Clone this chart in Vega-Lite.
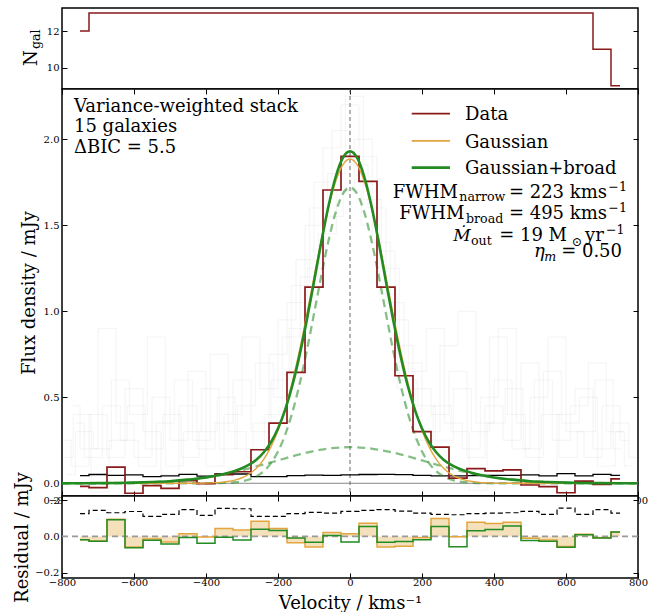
{
"$schema": "https://vega.github.io/schema/vega-lite/v6.json",
"background": "white",
"padding": {"left": 12, "top": 7, "right": 5, "bottom": 2},
"spacing": 0,
"bounds": "flush",
"config": {
  "font": "DejaVu Serif",
  "view": {"stroke": "black", "strokeWidth": 1.5, "fill": "white"},
  "axis": {"domain": false, "grid": false, "tickColor": "black", "tickSize": -5, "tickWidth": 1,
    "labelFont": "DejaVu Serif", "labelFontSize": 10, "labelColor": "black", "labelPadding": 8,
    "labelFlush": false, "labelOverlap": false, "labelBound": false,
    "titleFont": "DejaVu Serif", "titleFontSize": 18, "titleFontWeight": "normal", "titleColor": "black"}
},
"datasets": {
  "bins": [
    {"v":-750,"d":-0.018,"e":0.045,"e3":0.125,"rg":-0.018,"rt":-0.018,"n":12},
    {"v":-700,"d":-0.025,"e":0.051,"e3":0.143,"rg":-0.025,"rt":-0.026,"n":13},
    {"v":-650,"d":0.094,"e":0.046,"e3":0.130,"rg":0.094,"rt":0.092,"n":13},
    {"v":-600,"d":-0.058,"e":0.049,"e3":0.137,"rg":-0.058,"rt":-0.062,"n":13},
    {"v":-550,"d":-0.014,"e":0.039,"e3":0.110,"rg":-0.014,"rt":-0.021,"n":13},
    {"v":-500,"d":-0.030,"e":0.043,"e3":0.121,"rg":-0.030,"rt":-0.042,"n":13},
    {"v":-450,"d":0.015,"e":0.052,"e3":0.147,"rg":0.015,"rt":-0.006,"n":13},
    {"v":-400,"d":-0.002,"e":0.041,"e3":0.116,"rg":-0.003,"rt":-0.037,"n":13},
    {"v":-350,"d":0.050,"e":0.055,"e3":0.154,"rg":0.043,"rt":-0.004,"n":13},
    {"v":-300,"d":0.067,"e":0.054,"e3":0.152,"rg":0.035,"rt":-0.020,"n":13},
    {"v":-250,"d":0.195,"e":0.039,"e3":0.110,"rg":0.084,"rt":0.039,"n":13},
    {"v":-200,"d":0.350,"e":0.039,"e3":0.110,"rg":0.043,"rt":0.032,"n":13},
    {"v":-150,"d":0.645,"e":0.045,"e3":0.125,"rg":-0.034,"rt":-0.008,"n":13},
    {"v":-100,"d":1.140,"e":0.047,"e3":0.132,"rg":-0.058,"rt":-0.032,"n":13},
    {"v":-50,"d":1.705,"e":0.046,"e3":0.128,"rg":0.022,"rt":0.005,"n":13},
    {"v":0,"d":1.900,"e":0.049,"e3":0.138,"rg":0.015,"rt":-0.030,"n":13},
    {"v":50,"d":1.755,"e":0.051,"e3":0.143,"rg":0.072,"rt":0.055,"n":13},
    {"v":100,"d":1.140,"e":0.052,"e3":0.147,"rg":-0.058,"rt":-0.032,"n":13},
    {"v":150,"d":0.625,"e":0.050,"e3":0.139,"rg":-0.054,"rt":-0.028,"n":13},
    {"v":200,"d":0.300,"e":0.046,"e3":0.128,"rg":-0.007,"rt":-0.018,"n":13},
    {"v":250,"d":0.210,"e":0.043,"e3":0.121,"rg":0.099,"rt":0.054,"n":13},
    {"v":300,"d":0.030,"e":0.043,"e3":0.119,"rg":-0.002,"rt":-0.057,"n":13},
    {"v":350,"d":0.085,"e":0.045,"e3":0.125,"rg":0.078,"rt":0.031,"n":13},
    {"v":400,"d":0.072,"e":0.046,"e3":0.128,"rg":0.071,"rt":0.038,"n":13},
    {"v":450,"d":0.078,"e":0.046,"e3":0.130,"rg":0.078,"rt":0.057,"n":13},
    {"v":500,"d":-0.010,"e":0.049,"e3":0.138,"rg":-0.010,"rt":-0.022,"n":13},
    {"v":550,"d":-0.020,"e":0.043,"e3":0.121,"rg":-0.020,"rt":-0.027,"n":13},
    {"v":600,"d":-0.055,"e":0.056,"e3":0.156,"rg":-0.055,"rt":-0.059,"n":13},
    {"v":650,"d":0.012,"e":0.043,"e3":0.121,"rg":0.012,"rt":0.010,"n":13},
    {"v":700,"d":-0.007,"e":0.052,"e3":0.147,"rg":-0.007,"rt":-0.008,"n":11},
    {"v":750,"d":0.025,"e":0.046,"e3":0.128,"rg":0.025,"rt":0.025,"n":9}
  ],
  "model": [
    {"v":-800,"g":0,"n":0,"b":0.0002,"t":0.0002},
    {"v":-750,"g":0,"n":0,"b":0.0004,"t":0.0004},
    {"v":-700,"g":0,"n":0,"b":0.0008,"t":0.0008},
    {"v":-650,"g":0,"n":0,"b":0.0018,"t":0.0018},
    {"v":-600,"g":0,"n":0,"b":0.0035,"t":0.0035},
    {"v":-550,"g":0,"n":0,"b":0.007,"t":0.007},
    {"v":-500,"g":0,"n":0,"b":0.012,"t":0.012},
    {"v":-450,"g":0.0002,"n":0,"b":0.021,"t":0.021},
    {"v":-400,"g":0.001,"n":0.0002,"b":0.034,"t":0.034},
    {"v":-380,"g":0.003,"n":0.0005,"b":0.041,"t":0.041},
    {"v":-360,"g":0.005,"n":0.0013,"b":0.048,"t":0.050},
    {"v":-340,"g":0.010,"n":0.003,"b":0.057,"t":0.059},
    {"v":-320,"g":0.018,"n":0.006,"b":0.066,"t":0.072},
    {"v":-300,"g":0.032,"n":0.011,"b":0.076,"t":0.087},
    {"v":-280,"g":0.054,"n":0.022,"b":0.086,"t":0.108},
    {"v":-260,"g":0.088,"n":0.040,"b":0.098,"t":0.137},
    {"v":-240,"g":0.138,"n":0.069,"b":0.109,"t":0.179},
    {"v":-220,"g":0.210,"n":0.116,"b":0.121,"t":0.237},
    {"v":-200,"g":0.307,"n":0.185,"b":0.133,"t":0.318},
    {"v":-180,"g":0.434,"n":0.283,"b":0.145,"t":0.428},
    {"v":-160,"g":0.590,"n":0.413,"b":0.157,"t":0.570},
    {"v":-140,"g":0.775,"n":0.577,"b":0.168,"t":0.745},
    {"v":-120,"g":0.981,"n":0.771,"b":0.178,"t":0.949},
    {"v":-100,"g":1.198,"n":0.985,"b":0.187,"t":1.172},
    {"v":-80,"g":1.410,"n":1.204,"b":0.195,"t":1.399},
    {"v":-60,"g":1.601,"n":1.407,"b":0.202,"t":1.609},
    {"v":-40,"g":1.753,"n":1.573,"b":0.206,"t":1.779},
    {"v":-20,"g":1.851,"n":1.682,"b":0.209,"t":1.891},
    {"v":0,"g":1.885,"n":1.720,"b":0.210,"t":1.930},
    {"v":20,"g":1.851,"n":1.682,"b":0.209,"t":1.891},
    {"v":40,"g":1.753,"n":1.573,"b":0.206,"t":1.779},
    {"v":60,"g":1.601,"n":1.407,"b":0.202,"t":1.609},
    {"v":80,"g":1.410,"n":1.204,"b":0.195,"t":1.399},
    {"v":100,"g":1.198,"n":0.985,"b":0.187,"t":1.172},
    {"v":120,"g":0.981,"n":0.771,"b":0.178,"t":0.949},
    {"v":140,"g":0.775,"n":0.577,"b":0.168,"t":0.745},
    {"v":160,"g":0.590,"n":0.413,"b":0.157,"t":0.570},
    {"v":180,"g":0.434,"n":0.283,"b":0.145,"t":0.428},
    {"v":200,"g":0.307,"n":0.185,"b":0.133,"t":0.318},
    {"v":220,"g":0.210,"n":0.116,"b":0.121,"t":0.237},
    {"v":240,"g":0.138,"n":0.069,"b":0.109,"t":0.179},
    {"v":260,"g":0.088,"n":0.040,"b":0.098,"t":0.137},
    {"v":280,"g":0.054,"n":0.022,"b":0.086,"t":0.108},
    {"v":300,"g":0.032,"n":0.011,"b":0.076,"t":0.087},
    {"v":320,"g":0.018,"n":0.006,"b":0.066,"t":0.072},
    {"v":340,"g":0.010,"n":0.003,"b":0.057,"t":0.059},
    {"v":360,"g":0.005,"n":0.0013,"b":0.048,"t":0.050},
    {"v":380,"g":0.003,"n":0.0005,"b":0.041,"t":0.041},
    {"v":400,"g":0.001,"n":0.0002,"b":0.034,"t":0.034},
    {"v":450,"g":0.0002,"n":0,"b":0.021,"t":0.021},
    {"v":500,"g":0,"n":0,"b":0.012,"t":0.012},
    {"v":550,"g":0,"n":0,"b":0.007,"t":0.007},
    {"v":600,"g":0,"n":0,"b":0.0035,"t":0.0035},
    {"v":650,"g":0,"n":0,"b":0.0018,"t":0.0018},
    {"v":700,"g":0,"n":0,"b":0.0008,"t":0.0008},
    {"v":750,"g":0,"n":0,"b":0.0004,"t":0.0004},
    {"v":800,"g":0,"n":0,"b":0.0002,"t":0.0002}
  ],
  "bg": [
    {"s":"A","v":-800,"f":0.25},{"s":"A","v":-750,"f":0.10},{"s":"A","v":-700,"f":0.40},{"s":"A","v":-650,"f":0.15},{"s":"A","v":-600,"f":0.55},{"s":"A","v":-550,"f":0.30},{"s":"A","v":-500,"f":0.05},{"s":"A","v":-450,"f":0.45},{"s":"A","v":-400,"f":0.20},{"s":"A","v":-350,"f":0.35},{"s":"A","v":-300,"f":0.60},{"s":"A","v":-250,"f":0.30},{"s":"A","v":-200,"f":0.75},{"s":"A","v":-150,"f":1.05},{"s":"A","v":-100,"f":1.50},{"s":"A","v":-50,"f":1.95},{"s":"A","v":0,"f":2.20},{"s":"A","v":50,"f":1.90},{"s":"A","v":100,"f":1.35},{"s":"A","v":150,"f":0.80},{"s":"A","v":200,"f":0.55},{"s":"A","v":250,"f":0.40},{"s":"A","v":300,"f":0.65},{"s":"A","v":350,"f":0.15},{"s":"A","v":400,"f":0.45},{"s":"A","v":450,"f":0.25},{"s":"A","v":500,"f":0.70},{"s":"A","v":550,"f":-0.02},{"s":"A","v":600,"f":0.40},{"s":"A","v":650,"f":0.55},{"s":"A","v":700,"f":0.20},{"s":"A","v":750,"f":0.35},{"s":"A","v":800,"f":0.15},
    {"s":"B","v":-775,"f":0.45},{"s":"B","v":-725,"f":0.20},{"s":"B","v":-675,"f":0.90},{"s":"B","v":-625,"f":0.35},{"s":"B","v":-575,"f":0.15},{"s":"B","v":-525,"f":0.50},{"s":"B","v":-475,"f":0.25},{"s":"B","v":-425,"f":0.65},{"s":"B","v":-375,"f":0.10},{"s":"B","v":-325,"f":0.40},{"s":"B","v":-275,"f":0.85},{"s":"B","v":-225,"f":0.55},{"s":"B","v":-175,"f":0.95},{"s":"B","v":-125,"f":1.30},{"s":"B","v":-75,"f":1.75},{"s":"B","v":-25,"f":2.05},{"s":"B","v":25,"f":1.85},{"s":"B","v":75,"f":1.60},{"s":"B","v":125,"f":1.05},{"s":"B","v":175,"f":0.70},{"s":"B","v":225,"f":0.30},{"s":"B","v":275,"f":0.80},{"s":"B","v":325,"f":1.00},{"s":"B","v":375,"f":0.35},{"s":"B","v":425,"f":0.60},{"s":"B","v":475,"f":0.20},{"s":"B","v":525,"f":0.50},{"s":"B","v":575,"f":0.85},{"s":"B","v":625,"f":0.30},{"s":"B","v":675,"f":0.15},{"s":"B","v":725,"f":0.45},{"s":"B","v":775,"f":0.25},
    {"s":"C","v":-788,"f":0.05},{"s":"C","v":-738,"f":0.30},{"s":"C","v":-688,"f":0.20},{"s":"C","v":-638,"f":0.60},{"s":"C","v":-588,"f":0.40},{"s":"C","v":-538,"f":0.85},{"s":"C","v":-488,"f":0.10},{"s":"C","v":-438,"f":0.30},{"s":"C","v":-388,"f":0.55},{"s":"C","v":-338,"f":0.20},{"s":"C","v":-288,"f":0.45},{"s":"C","v":-238,"f":0.70},{"s":"C","v":-188,"f":0.50},{"s":"C","v":-138,"f":1.15},{"s":"C","v":-88,"f":1.60},{"s":"C","v":-38,"f":1.80},{"s":"C","v":12,"f":2.25},{"s":"C","v":62,"f":1.65},{"s":"C","v":112,"f":1.25},{"s":"C","v":162,"f":0.60},{"s":"C","v":212,"f":0.45},{"s":"C","v":262,"f":0.25},{"s":"C","v":312,"f":0.55},{"s":"C","v":362,"f":0.30},{"s":"C","v":412,"f":0.85},{"s":"C","v":462,"f":0.40},{"s":"C","v":512,"f":0.15},{"s":"C","v":562,"f":0.65},{"s":"C","v":612,"f":0.35},{"s":"C","v":662,"f":0.50},{"s":"C","v":712,"f":0.10},{"s":"C","v":762,"f":0.30},
    {"s":"D","v":-763,"f":0.35},{"s":"D","v":-713,"f":0.15},{"s":"D","v":-663,"f":0.45},{"s":"D","v":-613,"f":0.25},{"s":"D","v":-563,"f":0.10},{"s":"D","v":-513,"f":0.35},{"s":"D","v":-463,"f":0.60},{"s":"D","v":-413,"f":0.25},{"s":"D","v":-363,"f":0.75},{"s":"D","v":-313,"f":0.30},{"s":"D","v":-263,"f":0.15},{"s":"D","v":-213,"f":0.40},{"s":"D","v":-163,"f":0.85},{"s":"D","v":-113,"f":1.20},{"s":"D","v":-63,"f":1.45},{"s":"D","v":-13,"f":1.70},{"s":"D","v":37,"f":2.00},{"s":"D","v":87,"f":1.40},{"s":"D","v":137,"f":0.95},{"s":"D","v":187,"f":0.65},{"s":"D","v":237,"f":0.90},{"s":"D","v":287,"f":0.35},{"s":"D","v":337,"f":0.20},{"s":"D","v":387,"f":0.50},{"s":"D","v":437,"f":0.90},{"s":"D","v":487,"f":0.35},{"s":"D","v":537,"f":0.60},{"s":"D","v":587,"f":0.25},{"s":"D","v":637,"f":0.45},{"s":"D","v":687,"f":0.70},{"s":"D","v":737,"f":0.30},{"s":"D","v":787,"f":0.10},
    {"s":"E","v":-794,"f":0.15},{"s":"E","v":-744,"f":0.40},{"s":"E","v":-694,"f":-0.05},{"s":"E","v":-644,"f":0.25},{"s":"E","v":-594,"f":0.45},{"s":"E","v":-544,"f":0.20},{"s":"E","v":-494,"f":0.40},{"s":"E","v":-444,"f":0.15},{"s":"E","v":-394,"f":0.30},{"s":"E","v":-344,"f":0.50},{"s":"E","v":-294,"f":0.20},{"s":"E","v":-244,"f":0.35},{"s":"E","v":-194,"f":0.60},{"s":"E","v":-144,"f":0.90},{"s":"E","v":-94,"f":1.25},{"s":"E","v":-44,"f":1.55},{"s":"E","v":6,"f":1.70},{"s":"E","v":56,"f":1.50},{"s":"E","v":106,"f":1.10},{"s":"E","v":156,"f":0.55},{"s":"E","v":206,"f":0.25},{"s":"E","v":256,"f":0.45},{"s":"E","v":306,"f":0.30},{"s":"E","v":356,"f":-0.04},{"s":"E","v":406,"f":0.35},{"s":"E","v":456,"f":0.55},{"s":"E","v":506,"f":0.20},{"s":"E","v":556,"f":0.40},{"s":"E","v":606,"f":0.15},{"s":"E","v":656,"f":0.30},{"s":"E","v":706,"f":0.60},{"s":"E","v":756,"f":0.20}
  ]
},
"vconcat": [
  {
    "width": 576, "height": 81,
    "resolve": {"axis": {"x": "independent", "y": "independent"}},
    "layer": [
      {"data": {"name": "bins"}, "mark": {"type": "line", "interpolate": "step", "color": "#8b1a1a", "strokeWidth": 1.5},
       "encoding": {
         "x": {"field": "v", "type": "quantitative", "scale": {"domain": [-800, 800], "nice": false, "zero": false}, "axis": null},
         "y": {"field": "n", "type": "quantitative", "scale": {"domain": [8.82, 13.27], "nice": false, "zero": false}, "axis": {"orient": "left", "values": [10, 12], "format": "d", "title": null}}}},
      {"data": {"name": "bins"}, "mark": {"type": "line", "opacity": 0},
       "encoding": {
         "x": {"field": "v", "type": "quantitative", "scale": {"domain": [-800, 800], "nice": false, "zero": false}, "axis": null},
         "y": {"field": "n", "type": "quantitative", "scale": {"domain": [8.82, 13.27], "nice": false, "zero": false}, "axis": {"orient": "right", "values": [10, 12], "labels": false, "title": null}}}},
      {"data": {"values": [{}]}, "mark": {"type": "text", "text": "N", "font": "DejaVu Serif", "fontSize": 18, "angle": 270, "align": "left", "baseline": "alphabetic", "color": "black"},
       "encoding": {"x": {"datum": -869, "type": "quantitative", "scale": {"domain": [-800, 800], "nice": false, "zero": false}, "axis": null}, "y": {"datum": 10.08, "type": "quantitative", "scale": {"domain": [8.82, 13.27], "nice": false, "zero": false}, "axis": null}}},
      {"data": {"values": [{}]}, "mark": {"type": "text", "text": "gal", "font": "DejaVu Serif", "fontSize": 12.6, "angle": 270, "align": "left", "baseline": "alphabetic", "color": "black"},
       "encoding": {"x": {"datum": -862.5, "type": "quantitative", "scale": {"domain": [-800, 800], "nice": false, "zero": false}, "axis": null}, "y": {"datum": 11.02, "type": "quantitative", "scale": {"domain": [8.82, 13.27], "nice": false, "zero": false}, "axis": null}}}
    ]
  },
  {
    "width": 576, "height": 407,
    "resolve": {"axis": {"x": "independent", "y": "independent"}},
    "layer": [
      {"data": {"name": "bg"}, "mark": {"type": "line", "interpolate": "step", "color": "#999999", "opacity": 0.14, "strokeWidth": 0.8},
       "encoding": {
         "x": {"field": "v", "type": "quantitative", "scale": {"domain": [-800, 800], "nice": false, "zero": false}, "axis": {"orient": "bottom", "values": [-800, -600, -400, -200, 0, 200, 400, 600, 800], "format": "d", "title": null, "labelPadding": 4}},
         "y": {"field": "f", "type": "quantitative", "scale": {"domain": [-0.074, 2.292], "nice": false, "zero": false}, "axis": {"orient": "left", "values": [0, 0.5, 1, 1.5, 2], "format": ".1f", "title": "Flux density / mJy", "titleX": -28, "titleY": 203.5, "titleAngle": 270, "titleAlign": "center", "titleBaseline": "alphabetic"}},
         "detail": {"field": "s"}}},
      {"data": {"name": "bins"}, "mark": {"type": "line", "opacity": 0},
       "encoding": {
         "x": {"field": "v", "type": "quantitative", "scale": {"domain": [-800, 800], "nice": false, "zero": false}, "axis": {"orient": "top", "values": [-800, -600, -400, -200, 0, 200, 400, 600, 800], "labels": false, "title": null}},
         "y": {"field": "d", "type": "quantitative", "scale": {"domain": [-0.074, 2.292], "nice": false, "zero": false}, "axis": {"orient": "right", "values": [0, 0.5, 1, 1.5, 2], "labels": false, "title": null}}}},
      {"data": {"values": [{}]}, "mark": {"type": "rule", "color": "#888888", "strokeWidth": 1},
       "encoding": {"y": {"datum": 0, "type": "quantitative", "scale": {"domain": [-0.074, 2.292], "nice": false, "zero": false}, "axis": null}}},
      {"data": {"values": [{}]}, "mark": {"type": "rule", "color": "#666666", "strokeWidth": 1, "strokeDash": [4, 3]},
       "encoding": {"x": {"datum": 0, "type": "quantitative", "scale": {"domain": [-800, 800], "nice": false, "zero": false}, "axis": null}}},
      {"data": {"name": "bins"}, "mark": {"type": "line", "interpolate": "step", "color": "black", "strokeWidth": 1.3},
       "encoding": {
         "x": {"field": "v", "type": "quantitative", "scale": {"domain": [-800, 800], "nice": false, "zero": false}, "axis": null},
         "y": {"field": "e", "type": "quantitative", "scale": {"domain": [-0.074, 2.292], "nice": false, "zero": false}, "axis": null}}},
      {"data": {"name": "model"}, "mark": {"type": "line", "interpolate": "monotone", "color": "#228b22", "opacity": 0.55, "strokeWidth": 2.3, "strokeDash": [8, 5]},
       "encoding": {
         "x": {"field": "v", "type": "quantitative", "scale": {"domain": [-800, 800], "nice": false, "zero": false}, "axis": null},
         "y": {"field": "b", "type": "quantitative", "scale": {"domain": [-0.074, 2.292], "nice": false, "zero": false}, "axis": null}}},
      {"data": {"name": "model"}, "mark": {"type": "line", "interpolate": "monotone", "color": "#228b22", "opacity": 0.55, "strokeWidth": 2.3, "strokeDash": [8, 5]},
       "encoding": {
         "x": {"field": "v", "type": "quantitative", "scale": {"domain": [-800, 800], "nice": false, "zero": false}, "axis": null},
         "y": {"field": "n", "type": "quantitative", "scale": {"domain": [-0.074, 2.292], "nice": false, "zero": false}, "axis": null}}},
      {"data": {"name": "bins"}, "mark": {"type": "line", "interpolate": "step", "color": "#8b1a1a", "strokeWidth": 1.7},
       "encoding": {
         "x": {"field": "v", "type": "quantitative", "scale": {"domain": [-800, 800], "nice": false, "zero": false}, "axis": null},
         "y": {"field": "d", "type": "quantitative", "scale": {"domain": [-0.074, 2.292], "nice": false, "zero": false}, "axis": null}}},
      {"data": {"name": "model"}, "mark": {"type": "line", "interpolate": "monotone", "color": "#e3a53f", "strokeWidth": 1.4},
       "encoding": {
         "x": {"field": "v", "type": "quantitative", "scale": {"domain": [-800, 800], "nice": false, "zero": false}, "axis": null},
         "y": {"field": "g", "type": "quantitative", "scale": {"domain": [-0.074, 2.292], "nice": false, "zero": false}, "axis": null}}},
      {"data": {"name": "model"}, "mark": {"type": "line", "interpolate": "monotone", "color": "#228b22", "strokeWidth": 2.6},
       "encoding": {
         "x": {"field": "v", "type": "quantitative", "scale": {"domain": [-800, 800], "nice": false, "zero": false}, "axis": null},
         "y": {"field": "t", "type": "quantitative", "scale": {"domain": [-0.074, 2.292], "nice": false, "zero": false}, "axis": null}}},
      {"data": {"values": [{}]}, "mark": {"type": "rule", "color": "#8b1a1a", "strokeWidth": 1.7},
       "encoding": {"x": {"datum": 171.4, "type": "quantitative", "scale": {"domain": [-800, 800], "nice": false, "zero": false}, "axis": null}, "x2": {"datum": 277.8}, "y": {"datum": 2.149, "type": "quantitative", "scale": {"domain": [-0.074, 2.292], "nice": false, "zero": false}, "axis": null}}},
      {"data": {"values": [{}]}, "mark": {"type": "rule", "color": "#e3a53f", "strokeWidth": 1.7},
       "encoding": {"x": {"datum": 171.4, "type": "quantitative", "scale": {"domain": [-800, 800], "nice": false, "zero": false}, "axis": null}, "x2": {"datum": 277.8}, "y": {"datum": 1.990, "type": "quantitative", "scale": {"domain": [-0.074, 2.292], "nice": false, "zero": false}, "axis": null}}},
      {"data": {"values": [{}]}, "mark": {"type": "rule", "color": "#228b22", "strokeWidth": 2.7},
       "encoding": {"x": {"datum": 171.4, "type": "quantitative", "scale": {"domain": [-800, 800], "nice": false, "zero": false}, "axis": null}, "x2": {"datum": 277.8}, "y": {"datum": 1.835, "type": "quantitative", "scale": {"domain": [-0.074, 2.292], "nice": false, "zero": false}, "axis": null}}},
      {"data": {"values": [{}]}, "mark": {"type": "text", "text": "Data", "fontSize": 18, "align": "left", "baseline": "alphabetic", "color": "black"},
       "encoding": {"x": {"datum": 319.4, "type": "quantitative", "scale": {"domain": [-800, 800], "nice": false, "zero": false}, "axis": null}, "y": {"datum": 2.109, "type": "quantitative", "scale": {"domain": [-0.074, 2.292], "nice": false, "zero": false}, "axis": null}}},
      {"data": {"values": [{}]}, "mark": {"type": "text", "text": "Gaussian", "fontSize": 18, "align": "left", "baseline": "alphabetic", "color": "black"},
       "encoding": {"x": {"datum": 319.4, "type": "quantitative", "scale": {"domain": [-800, 800], "nice": false, "zero": false}, "axis": null}, "y": {"datum": 1.951, "type": "quantitative", "scale": {"domain": [-0.074, 2.292], "nice": false, "zero": false}, "axis": null}}},
      {"data": {"values": [{}]}, "mark": {"type": "text", "text": "Gaussian+broad", "fontSize": 18, "align": "left", "baseline": "alphabetic", "color": "black"},
       "encoding": {"x": {"datum": 319.4, "type": "quantitative", "scale": {"domain": [-800, 800], "nice": false, "zero": false}, "axis": null}, "y": {"datum": 1.796, "type": "quantitative", "scale": {"domain": [-0.074, 2.292], "nice": false, "zero": false}, "axis": null}}},
      {"data": {"values": [{}]}, "mark": {"type": "text", "text": ["Variance-weighted stack", "15 galaxies", "ΔBIC = 5.5"], "lineHeight": 20.4, "fontSize": 18, "align": "left", "baseline": "alphabetic", "color": "black"},
       "encoding": {"x": {"datum": -766.7, "type": "quantitative", "scale": {"domain": [-800, 800], "nice": false, "zero": false}, "axis": null}, "y": {"datum": 2.159, "type": "quantitative", "scale": {"domain": [-0.074, 2.292], "nice": false, "zero": false}, "axis": null}}},
      {"data": {"values": [{}]}, "mark": {"type": "text", "text": "FWHM", "fontSize": 18, "align": "left", "baseline": "alphabetic", "color": "black"},
       "encoding": {"x": {"datum": 118.6, "type": "quantitative", "scale": {"domain": [-800, 800], "nice": false, "zero": false}, "axis": null}, "y": {"datum": 1.660, "type": "quantitative", "scale": {"domain": [-0.074, 2.292], "nice": false, "zero": false}, "axis": null}}},
      {"data": {"values": [{}]}, "mark": {"type": "text", "text": "narrow", "fontSize": 12.6, "align": "left", "baseline": "alphabetic", "color": "black"},
       "encoding": {"x": {"datum": 303.7, "type": "quantitative", "scale": {"domain": [-800, 800], "nice": false, "zero": false}, "axis": null}, "y": {"datum": 1.640, "type": "quantitative", "scale": {"domain": [-0.074, 2.292], "nice": false, "zero": false}, "axis": null}}},
      {"data": {"values": [{}]}, "mark": {"type": "text", "text": "= 223 kms", "fontSize": 18, "align": "right", "baseline": "alphabetic", "color": "black"},
       "encoding": {"x": {"datum": 713.9, "type": "quantitative", "scale": {"domain": [-800, 800], "nice": false, "zero": false}, "axis": null}, "y": {"datum": 1.660, "type": "quantitative", "scale": {"domain": [-0.074, 2.292], "nice": false, "zero": false}, "axis": null}}},
      {"data": {"values": [{}]}, "mark": {"type": "text", "text": "−1", "fontSize": 12.6, "align": "left", "baseline": "alphabetic", "color": "black"},
       "encoding": {"x": {"datum": 717.6, "type": "quantitative", "scale": {"domain": [-800, 800], "nice": false, "zero": false}, "axis": null}, "y": {"datum": 1.699, "type": "quantitative", "scale": {"domain": [-0.074, 2.292], "nice": false, "zero": false}, "axis": null}}},
      {"data": {"values": [{}]}, "mark": {"type": "text", "text": "FWHM", "fontSize": 18, "align": "left", "baseline": "alphabetic", "color": "black"},
       "encoding": {"x": {"datum": 137.0, "type": "quantitative", "scale": {"domain": [-800, 800], "nice": false, "zero": false}, "axis": null}, "y": {"datum": 1.535, "type": "quantitative", "scale": {"domain": [-0.074, 2.292], "nice": false, "zero": false}, "axis": null}}},
      {"data": {"values": [{}]}, "mark": {"type": "text", "text": "broad", "fontSize": 12.6, "align": "left", "baseline": "alphabetic", "color": "black"},
       "encoding": {"x": {"datum": 322.2, "type": "quantitative", "scale": {"domain": [-800, 800], "nice": false, "zero": false}, "axis": null}, "y": {"datum": 1.513, "type": "quantitative", "scale": {"domain": [-0.074, 2.292], "nice": false, "zero": false}, "axis": null}}},
      {"data": {"values": [{}]}, "mark": {"type": "text", "text": "= 495 kms", "fontSize": 18, "align": "right", "baseline": "alphabetic", "color": "black"},
       "encoding": {"x": {"datum": 713.9, "type": "quantitative", "scale": {"domain": [-800, 800], "nice": false, "zero": false}, "axis": null}, "y": {"datum": 1.535, "type": "quantitative", "scale": {"domain": [-0.074, 2.292], "nice": false, "zero": false}, "axis": null}}},
      {"data": {"values": [{}]}, "mark": {"type": "text", "text": "−1", "fontSize": 12.6, "align": "left", "baseline": "alphabetic", "color": "black"},
       "encoding": {"x": {"datum": 717.6, "type": "quantitative", "scale": {"domain": [-800, 800], "nice": false, "zero": false}, "axis": null}, "y": {"datum": 1.577, "type": "quantitative", "scale": {"domain": [-0.074, 2.292], "nice": false, "zero": false}, "axis": null}}},
      {"data": {"values": [{}]}, "mark": {"type": "text", "text": "Ṁ", "fontSize": 17, "fontStyle": "italic", "align": "left", "baseline": "alphabetic", "color": "black"},
       "encoding": {"x": {"datum": 287.0, "type": "quantitative", "scale": {"domain": [-800, 800], "nice": false, "zero": false}, "axis": null}, "y": {"datum": 1.409, "type": "quantitative", "scale": {"domain": [-0.074, 2.292], "nice": false, "zero": false}, "axis": null}}},
      {"data": {"values": [{}]}, "mark": {"type": "text", "text": "out", "fontSize": 12.6, "align": "left", "baseline": "alphabetic", "color": "black"},
       "encoding": {"x": {"datum": 336.0, "type": "quantitative", "scale": {"domain": [-800, 800], "nice": false, "zero": false}, "axis": null}, "y": {"datum": 1.388, "type": "quantitative", "scale": {"domain": [-0.074, 2.292], "nice": false, "zero": false}, "axis": null}}},
      {"data": {"values": [{}]}, "mark": {"type": "text", "text": "= 19 M", "fontSize": 18, "align": "right", "baseline": "alphabetic", "color": "black"},
       "encoding": {"x": {"datum": 602.8, "type": "quantitative", "scale": {"domain": [-800, 800], "nice": false, "zero": false}, "axis": null}, "y": {"datum": 1.409, "type": "quantitative", "scale": {"domain": [-0.074, 2.292], "nice": false, "zero": false}, "axis": null}}},
      {"data": {"values": [{}]}, "mark": {"type": "text", "text": "⊙", "fontSize": 12.6, "align": "left", "baseline": "alphabetic", "color": "black"},
       "encoding": {"x": {"datum": 615.8, "type": "quantitative", "scale": {"domain": [-800, 800], "nice": false, "zero": false}, "axis": null}, "y": {"datum": 1.380, "type": "quantitative", "scale": {"domain": [-0.074, 2.292], "nice": false, "zero": false}, "axis": null}}},
      {"data": {"values": [{}]}, "mark": {"type": "text", "text": "yr", "fontSize": 18, "align": "right", "baseline": "alphabetic", "color": "black"},
       "encoding": {"x": {"datum": 705.0, "type": "quantitative", "scale": {"domain": [-800, 800], "nice": false, "zero": false}, "axis": null}, "y": {"datum": 1.409, "type": "quantitative", "scale": {"domain": [-0.074, 2.292], "nice": false, "zero": false}, "axis": null}}},
      {"data": {"values": [{}]}, "mark": {"type": "text", "text": "−1", "fontSize": 12.6, "align": "left", "baseline": "alphabetic", "color": "black"},
       "encoding": {"x": {"datum": 711.0, "type": "quantitative", "scale": {"domain": [-800, 800], "nice": false, "zero": false}, "axis": null}, "y": {"datum": 1.451, "type": "quantitative", "scale": {"domain": [-0.074, 2.292], "nice": false, "zero": false}, "axis": null}}},
      {"data": {"values": [{}]}, "mark": {"type": "text", "text": "η", "fontSize": 18, "fontStyle": "italic", "align": "left", "baseline": "alphabetic", "color": "black"},
       "encoding": {"x": {"datum": 511.0, "type": "quantitative", "scale": {"domain": [-800, 800], "nice": false, "zero": false}, "axis": null}, "y": {"datum": 1.316, "type": "quantitative", "scale": {"domain": [-0.074, 2.292], "nice": false, "zero": false}, "axis": null}}},
      {"data": {"values": [{}]}, "mark": {"type": "text", "text": "m", "fontSize": 12.6, "fontStyle": "italic", "align": "left", "baseline": "alphabetic", "color": "black"},
       "encoding": {"x": {"datum": 539.8, "type": "quantitative", "scale": {"domain": [-800, 800], "nice": false, "zero": false}, "axis": null}, "y": {"datum": 1.295, "type": "quantitative", "scale": {"domain": [-0.074, 2.292], "nice": false, "zero": false}, "axis": null}}},
      {"data": {"values": [{}]}, "mark": {"type": "text", "text": "= 0.50", "fontSize": 18, "align": "right", "baseline": "alphabetic", "color": "black"},
       "encoding": {"x": {"datum": 755.6, "type": "quantitative", "scale": {"domain": [-800, 800], "nice": false, "zero": false}, "axis": null}, "y": {"datum": 1.316, "type": "quantitative", "scale": {"domain": [-0.074, 2.292], "nice": false, "zero": false}, "axis": null}}}
    ]
  },
  {
    "width": 576, "height": 82,
    "resolve": {"axis": {"x": "independent", "y": "independent"}},
    "layer": [
      {"data": {"name": "bins"}, "mark": {"type": "area", "interpolate": "step", "color": "#e3a53f", "opacity": 0.35},
       "encoding": {
         "x": {"field": "v", "type": "quantitative", "scale": {"domain": [-800, 800], "nice": false, "zero": false}, "axis": {"orient": "bottom", "values": [-800, -600, -400, -200, 0, 200, 400, 600, 800], "format": "d", "labelPadding": 4, "title": "Velocity / kms⁻¹", "titleX": 288, "titleY": 30, "titleBaseline": "alphabetic", "titleAlign": "center"}},
         "y": {"field": "rg", "type": "quantitative", "scale": {"domain": [-0.228, 0.222], "nice": false, "zero": false}, "axis": {"orient": "left", "values": [-0.2, 0, 0.2], "format": ".1f", "title": "Residual / mJy", "titleX": -35, "titleY": 41, "titleAngle": 270, "titleAlign": "center", "titleBaseline": "alphabetic"}},
         "y2": {"datum": 0}}},
      {"data": {"name": "bins"}, "mark": {"type": "line", "opacity": 0},
       "encoding": {
         "x": {"field": "v", "type": "quantitative", "scale": {"domain": [-800, 800], "nice": false, "zero": false}, "axis": {"orient": "top", "values": [-800, -600, -400, -200, 0, 200, 400, 600, 800], "labels": false, "title": null}},
         "y": {"field": "rg", "type": "quantitative", "scale": {"domain": [-0.228, 0.222], "nice": false, "zero": false}, "axis": {"orient": "right", "values": [-0.2, 0, 0.2], "labels": false, "title": null}}}},
      {"data": {"values": [{}]}, "mark": {"type": "rule", "color": "#999999", "strokeWidth": 1.8, "strokeDash": [6, 4]},
       "encoding": {"y": {"datum": 0, "type": "quantitative", "scale": {"domain": [-0.228, 0.222], "nice": false, "zero": false}, "axis": null}}},
      {"data": {"name": "bins"}, "mark": {"type": "line", "interpolate": "step", "color": "#e3a53f", "strokeWidth": 1.5},
       "encoding": {
         "x": {"field": "v", "type": "quantitative", "scale": {"domain": [-800, 800], "nice": false, "zero": false}, "axis": null},
         "y": {"field": "rg", "type": "quantitative", "scale": {"domain": [-0.228, 0.222], "nice": false, "zero": false}, "axis": null}}},
      {"data": {"name": "bins"}, "mark": {"type": "line", "interpolate": "step", "color": "#228b22", "strokeWidth": 1.5},
       "encoding": {
         "x": {"field": "v", "type": "quantitative", "scale": {"domain": [-800, 800], "nice": false, "zero": false}, "axis": null},
         "y": {"field": "rt", "type": "quantitative", "scale": {"domain": [-0.228, 0.222], "nice": false, "zero": false}, "axis": null}}},
      {"data": {"name": "bins"}, "mark": {"type": "line", "interpolate": "step", "color": "black", "strokeWidth": 1.2, "strokeDash": [5, 3]},
       "encoding": {
         "x": {"field": "v", "type": "quantitative", "scale": {"domain": [-800, 800], "nice": false, "zero": false}, "axis": null},
         "y": {"field": "e3", "type": "quantitative", "scale": {"domain": [-0.228, 0.222], "nice": false, "zero": false}, "axis": null}}}
    ]
  }
]
}
